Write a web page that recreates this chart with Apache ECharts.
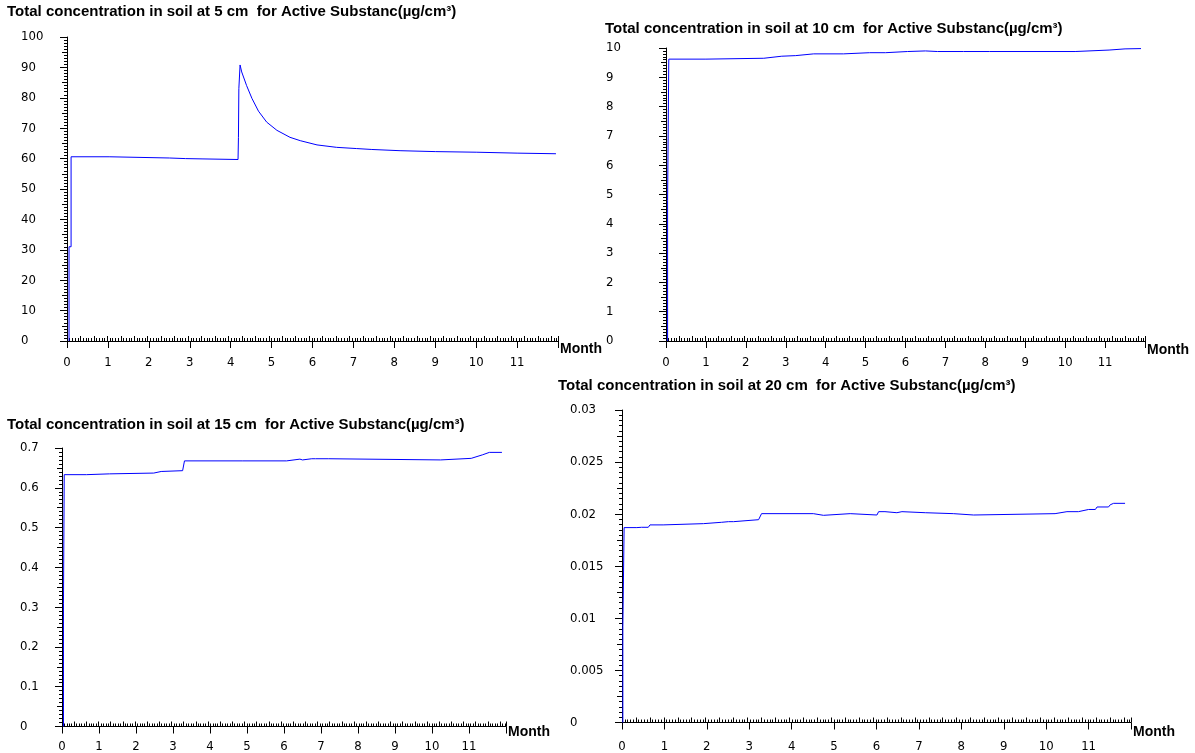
<!DOCTYPE html>
<html><head><meta charset="utf-8">
<script src="https://cdn.jsdelivr.net/npm/echarts@6/dist/echarts.min.js"></script>
<style>html,body{margin:0;padding:0;background:#fff}#c{width:1195px;height:753px}</style>
</head><body><div id="c"></div>
<script>
// ---- data ----
const titles = [
  'Total concentration in soil at 5 cm  for Active Substanc(\u00b5g/cm\u00b3)',
  'Total concentration in soil at 10 cm  for Active Substanc(\u00b5g/cm\u00b3)',
  'Total concentration in soil at 15 cm  for Active Substanc(\u00b5g/cm\u00b3)',
  'Total concentration in soil at 20 cm  for Active Substanc(\u00b5g/cm\u00b3)'
];
const monthLabels = ['0','1','2','3','4','5','6','7','8','9','10','11'];
const xAxisName = 'Month';

// 5 cm (month, µg/cm³)
const t5 = [0.05, 0.05, 0.1, 0.1, 1.03, 1.03, 2.5, 2.9, 3.3, 4.18, 4.19, 4.2, 4.21, 4.23, 4.27, 4.39, 4.52, 4.68, 4.88, 5.13, 5.45, 5.70, 6.11, 6.59, 7.08, 7.45, 8.14, 9.0, 10.0, 11.0, 11.95];
const c5 = [0, 31, 31, 60.6, 60.6, 60.3, 60.2, 60.0, 59.9, 59.7, 67, 83, 83, 90.8, 88.5, 84.0, 79.8, 75.6, 72.0, 69.3, 67.0, 65.9, 64.5, 63.7, 63.3, 63.0, 62.6, 62.3, 62.1, 61.8, 61.6];

// 10 cm
const t10 = [0.04, 0.04, 0.07, 0.07, 1.0, 1.0, 2.45, 2.45, 2.9, 3.25, 3.3, 3.7, 4.45, 5.1, 5.5, 6.05, 6.1, 6.5, 6.8, 7.45, 7.5, 8.1, 10.25, 10.3, 11.1, 11.5, 11.9];
const c10 = [0, 4.8, 4.8, 9.62, 9.62, 9.65, 9.65, 9.7, 9.72, 9.74, 9.8, 9.8, 9.8, 9.84, 9.84, 9.88, 9.9, 9.9, 9.88, 9.88, 9.87, 9.88, 9.88, 9.92, 9.93, 9.97, 9.98];

// 15 cm
const t15 = [0.04, 0.04, 0.06, 0.06, 0.66, 0.66, 1.28, 1.28, 2.48, 2.68, 3.26, 3.31, 4.87, 6.07, 6.1, 6.43, 6.5, 6.53, 6.75, 6.85, 7.21, 7.25, 10.23, 10.28, 11.06, 11.1, 11.37, 11.55, 11.89];
const c15 = [0, 0.31, 0.31, 0.633, 0.633, 0.635, 0.635, 0.637, 0.637, 0.641, 0.643, 0.6676, 0.6676, 0.6676, 0.672, 0.672, 0.670, 0.674, 0.673, 0.673, 0.673, 0.670, 0.670, 0.672, 0.674, 0.677, 0.683, 0.689, 0.689];

// 20 cm
const t20 = [0.02, 0.02, 0.05, 0.05, 0.35, 0.35, 0.46, 0.62, 0.66, 0.97, 1.01, 1.92, 1.92, 2.35, 2.39, 2.51, 2.63, 2.67, 3.22, 3.29, 4.51, 4.55, 4.75, 4.79, 5.38, 5.42, 6.01, 6.05, 6.2, 6.24, 6.48, 6.52, 6.6, 6.63, 7.15, 7.19, 7.81, 7.85, 8.29, 8.33, 10.21, 10.25, 10.49, 10.76, 11.0, 11.16, 11.2, 11.47, 11.51, 11.59, 11.86];
const c20 = [0, 0.0092, 0.0092, 0.01871, 0.01871, 0.01884, 0.01874, 0.01874, 0.01897, 0.01897, 0.01909, 0.01909, 0.01922, 0.01922, 0.01905, 0.01928, 0.01928, 0.01947, 0.01947, 0.02005, 0.02005, 0.01989, 0.01989, 0.02005, 0.02005, 0.01992, 0.01992, 0.02024, 0.02024, 0.02014, 0.02014, 0.02024, 0.02024, 0.02014, 0.02014, 0.02005, 0.02005, 0.01992, 0.01992, 0.02005, 0.02005, 0.02014, 0.02024, 0.02024, 0.02045, 0.02045, 0.02069, 0.02069, 0.0209, 0.02104, 0.02104];

const seriesT = [t5, t10, t15, t20];
const seriesV = [c5, c10, c15, c20];
const yMaxes = [100, 10, 0.7, 0.03];
const yMajor = [10, 1, 0.1, 0.005];

// ---- layout ----
const grids = [
  {left: 67, top: 37, width: 491, height: 304},
  {left: 666, top: 48, width: 479, height: 293},
  {left: 62, top: 448, width: 444, height: 280},
  {left: 622, top: 410, width: 509, height: 313}
];
const titlePos = [{left: 7, top: 4}, {left: 605, top: 21}, {left: 7, top: 417}, {left: 558, top: 378}];
const yLabelMargin = [46, 60, 42, 52];
const xLabelMargin = [15.5, 15.5, 13.5, 17.5];
const namePadTop = [1, 2, -1, 3];

const NARROW = "'Liberation Sans Narrow','DejaVu Sans Condensed','Roboto Condensed',sans-serif";
const SANS = "'Liberation Sans', Arial, sans-serif";
const AX = '#000';

const option = {
  backgroundColor: '#fff',
  animation: false,
  title: titles.map((t, i) => ({
    text: t, left: titlePos[i].left, top: titlePos[i].top, padding: 0,
    textStyle: {fontFamily: SANS, fontSize: 15, fontWeight: 'bold', color: '#000'}
  })),
  grid: grids.map(g => Object.assign({containLabel: false}, g)),
  xAxis: [],
  yAxis: [],
  series: []
};

grids.forEach((g, i) => {
  // primary x axis (months)
  option.xAxis.push({
    type: 'value', gridIndex: i, min: 0, max: 12, interval: 1,
    name: xAxisName, nameLocation: 'end', nameGap: 2,
    nameTextStyle: {fontFamily: SANS, fontSize: 14, fontWeight: 'bold', color: '#000', align: 'left', verticalAlign: 'top', padding: [namePadTop[i], 0, 0, 0]},
    axisLine: {show: true, lineStyle: {color: AX, width: 1}},
    axisTick: {show: true, inside: false, length: 7, lineStyle: {color: AX}},
    minorTick: {show: false},
    splitLine: {show: false},
    axisLabel: {show: true, margin: xLabelMargin[i], color: '#000', fontFamily: NARROW, fontSize: 13,
      formatter: v => (v < monthLabels.length ? monthLabels[Math.round(v)] : '')}
  });
  // secondary x axis for day ticks
  option.xAxis.push({
    type: 'value', gridIndex: i, min: 0, max: 365, interval: 10,
    axisLine: {show: false},
    axisTick: {show: true, inside: false, length: 5, lineStyle: {color: AX}},
    minorTick: {show: true, splitNumber: 5, length: 3, lineStyle: {color: AX}},
    splitLine: {show: false}, axisLabel: {show: false}
  });
  // primary y axis
  const dec = i === 3 ? 4 : (i === 2 ? 2 : 0);
  option.yAxis.push({
    type: 'value', gridIndex: i, position: 'left', min: 0, max: yMaxes[i], interval: yMajor[i],
    axisLine: {show: true, lineStyle: {color: AX, width: 1}},
    axisTick: {show: true, inside: false, length: 7, lineStyle: {color: AX}},
    splitLine: {show: false},
    axisLabel: {show: true, align: 'left', margin: yLabelMargin[i], color: '#000', fontFamily: NARROW, fontSize: 13,
      formatter: v => String(parseFloat(v.toFixed(dec)))}
  });
  // secondary y axis for minor ticks
  option.yAxis.push({
    type: 'value', gridIndex: i, position: 'left', offset: 0, min: 0, max: yMaxes[i], interval: yMajor[i] / 2,
    axisLine: {show: false},
    axisTick: {show: true, inside: false, length: 5, lineStyle: {color: AX}},
    minorTick: {show: true, splitNumber: 5, length: 3, lineStyle: {color: AX}},
    splitLine: {show: false}, axisLabel: {show: false}
  });
  option.series.push({
    type: 'line', xAxisIndex: 2 * i, yAxisIndex: 2 * i, showSymbol: false, symbol: 'none',
    clip: false,
    lineStyle: {color: '#0000ff', width: 1},
    data: seriesT[i].map((t, k) => [t, seriesV[i][k]])
  });
});

const chart = echarts.init(document.getElementById('c'), null, {renderer: 'canvas'});
chart.setOption(option);
</script>
</body></html>
